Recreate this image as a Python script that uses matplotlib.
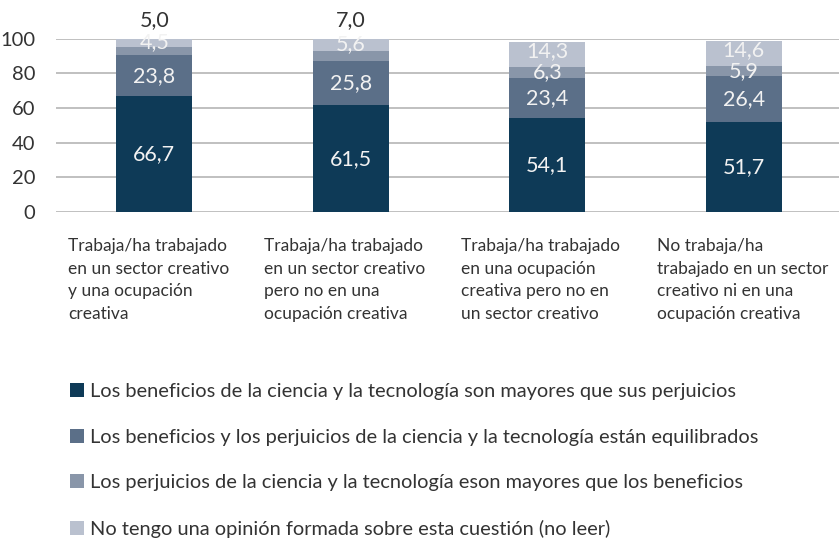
import numpy as np
import matplotlib.pyplot as plt
from matplotlib.patches import Patch

plt.rcParams['font.family'] = ['Lato', 'DejaVu Sans']

categories = [
    "Trabaja/ha trabajado\nen un sector creativo\ny una ocupación\ncreativa",
    "Trabaja/ha trabajado\nen un sector creativo\npero no en una\nocupación creativa",
    "Trabaja/ha trabajado\nen una ocupación\ncreativa pero no en\nun sector creativo",
    "No trabaja/ha\ntrabajado en un sector\ncreativo ni en una\nocupación creativa",
]
series_names = [
    "Los beneficios de la ciencia y la tecnología son mayores que sus perjuicios",
    "Los beneficios y los perjuicios de la ciencia y la tecnología están equilibrados",
    "Los perjuicios de la ciencia y la tecnología eson mayores que los beneficios",
    "No tengo una opinión formada sobre esta cuestión (no leer)",
]
mayores = [66.7, 61.5, 54.1, 51.7]
equilibrados = [23.8, 25.8, 23.4, 26.4]
perjuicios = [4.5, 5.6, 6.3, 5.9]
sin_opinion = [5.0, 7.0, 14.3, 14.6]

colors = ['#0e3a57', '#5b6f88', '#8996a9', '#bac1cf']
text_dark = '#333333'


def fmt(v):
    return f"{v:.1f}".replace('.', ',')


fig = plt.figure(figsize=(8.39, 5.42), dpi=100)
ax = fig.add_axes([56 / 839, 1 - 212 / 542, 786 / 839, 173.5 / 542])

x = np.arange(len(categories))
width = 0.386
data = [mayores, equilibrados, perjuicios, sin_opinion]
bottom = np.zeros(len(categories))
for vals, col in zip(data, colors):
    ax.bar(x, vals, width, bottom=bottom, color=col, zorder=3)
    bottom += np.array(vals)

# value labels
for i in range(len(categories)):
    b0 = 0
    for k, vals in enumerate(data[:2]):
        ax.text(x[i], b0 + vals[i] / 2, fmt(vals[i]), ha='center', va='center',
                color='#f2f2f2', fontsize=15.5, zorder=4)
        b0 += vals[i]
    top3 = b0 + perjuicios[i]
    if sin_opinion[i] < 10:
        # small top segment: labels shifted up
        ax.text(x[i], top3 + sin_opinion[i] / 2 + 0.5, fmt(perjuicios[i]), ha='center',
                va='center', color='#f2f2f2', fontsize=15.5, zorder=4)
        ax.text(x[i], 110.5, fmt(sin_opinion[i]), ha='center', va='center',
                color=text_dark, fontsize=15.5, clip_on=False)
    else:
        ax.text(x[i], b0 + perjuicios[i] / 2, fmt(perjuicios[i]), ha='center',
                va='center', color='#f2f2f2', fontsize=15.5, zorder=4)
        ax.text(x[i], top3 + sin_opinion[i] / 2 + 2, fmt(sin_opinion[i]), ha='center',
                va='center', color='#f2f2f2', fontsize=15.5, zorder=4)
    # category label, left aligned
    ax.text(x[i] - 0.44, -15, categories[i], ha='left', va='top', color=text_dark,
            fontsize=12.5, linespacing=1.5, clip_on=False)

ax.set_ylim(0, 100)
ax.set_xlim(-0.5, 3.5)
ax.set_yticks(range(0, 101, 20))
ax.set_xticks([])
ax.yaxis.grid(True, color='#b5b5b5', linewidth=1.2, zorder=0)
for s in ax.spines.values():
    s.set_visible(False)
ax.tick_params(axis='y', length=0, pad=15, labelsize=14.5, labelcolor=text_dark)

handles = [Patch(facecolor=c, edgecolor='none') for c in colors]
fig.legend(handles, series_names, loc='upper left', bbox_to_anchor=(62 / 839, 1 - 375 / 542),
           frameon=False, fontsize=14.4, handlelength=0.72, handleheight=0.72,
           handletextpad=0.3, labelspacing=1.42, labelcolor=text_dark, borderaxespad=0)

fig.savefig('out.png', dpi=100)
